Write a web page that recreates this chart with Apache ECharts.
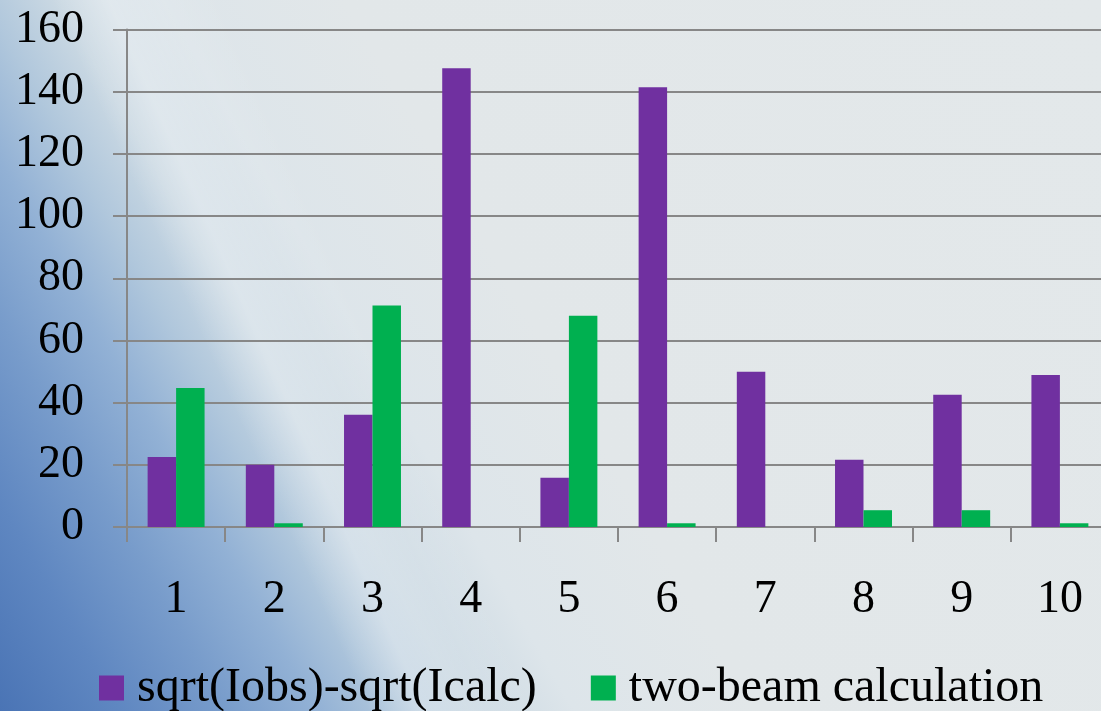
<!DOCTYPE html>
<html>
<head>
<meta charset="utf-8">
<script src="https://cdn.jsdelivr.net/npm/echarts@6/dist/echarts.min.js"></script>
<style>
  html, body { margin: 0; padding: 0; width: 1101px; height: 711px; overflow: hidden; }
  #wrap {
    width: 1101px; height: 711px; overflow: hidden; position: relative;
    background:
      linear-gradient(66deg, rgba(255,255,255,0) 26%, rgba(255,255,255,0.3) 30%, rgba(255,255,255,0.1) 34%, rgba(255,255,255,0) 38%),
      linear-gradient(60deg, #4a74b5 0%, #5f87c1 8%, #789ccb 15%, #92b1d5 21%, #b0c7dc 26%, #cbd9e3 31%, #dde5ea 38%, #e2e7e9 50%, #e3e8ea 100%);
  }
  /* the plot runs slightly past the right edge of the page */
  #chart { position: absolute; left: 0; top: 0; width: 1120px; height: 711px; }
</style>
</head>
<body>
<div id="wrap"><div id="chart"></div></div>
<script>
// Row numbers along the category axis
const categories = ['1', '2', '3', '4', '5', '6', '7', '8', '9', '10'];
// Difference of square-rooted intensities
const sqrtDiff = [22.5, 20, 36.1, 147.5, 15.8, 141.4, 49.9, 21.6, 42.5, 48.9];
// Two-beam calculation results
const twoBeam = [44.7, 1.2, 71.2, 0, 67.9, 1.2, 0, 5.4, 5.4, 1.2];
// Value axis ticks
const yTicks = [0, 20, 40, 60, 80, 100, 120, 140, 160];

const seriesNames = ['sqrt(Iobs)-sqrt(Icalc)', 'two-beam calculation'];
const font = 'Liberation Serif';
const gray = '#878787';

const chart = echarts.init(document.getElementById('chart'), null, { renderer: 'canvas' });
chart.setOption({
  backgroundColor: 'transparent',
  animation: false,
  grid: { left: 127, right: 11, top: 29.5, bottom: 184, containLabel: false },
  legend: {
    data: seriesNames,
    left: 99,
    top: 663,
    padding: 0,
    icon: 'rect',
    itemWidth: 25,
    itemHeight: 25,
    itemGap: 54,
    textStyle: { fontFamily: font, fontSize: 48, color: '#000', lineHeight: 50, padding: [0, 0, 0, 8] }
  },
  xAxis: {
    type: 'category',
    data: categories,
    boundaryGap: true,
    axisLine: { show: true, lineStyle: { color: gray, width: 2 } },
    axisTick: { show: true, length: 15, lineStyle: { color: gray, width: 2 } },
    axisLabel: { fontFamily: font, fontSize: 46, color: '#000', margin: 50 },
    splitLine: { show: false }
  },
  yAxis: {
    type: 'value',
    min: yTicks[0],
    max: yTicks[yTicks.length - 1],
    interval: yTicks[1] - yTicks[0],
    axisLine: { show: true, lineStyle: { color: gray, width: 2 } },
    axisTick: { show: true, length: 14, lineStyle: { color: gray, width: 2 } },
    axisLabel: { fontFamily: font, fontSize: 46, color: '#000', margin: 43 },
    splitLine: { show: true, lineStyle: { color: gray, width: 2 } }
  },
  series: [
    {
      name: seriesNames[0],
      type: 'bar',
      data: sqrtDiff,
      barGap: '0%',
      barCategoryGap: '42%',
      itemStyle: { color: '#7030a0' }
    },
    {
      name: seriesNames[1],
      type: 'bar',
      data: twoBeam,
      barGap: '0%',
      barCategoryGap: '42%',
      itemStyle: { color: '#00b050' }
    }
  ]
});
</script>
</body>
</html>
